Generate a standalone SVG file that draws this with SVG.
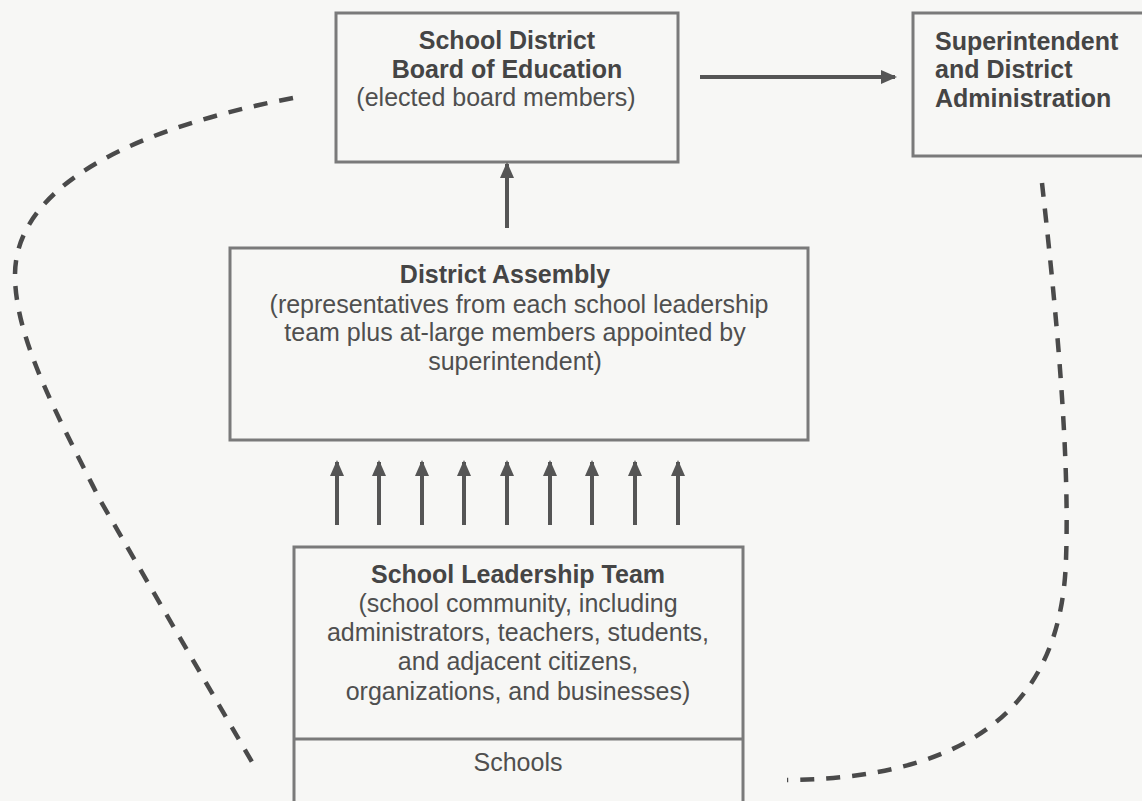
<svg xmlns="http://www.w3.org/2000/svg" width="1142" height="801" viewBox="0 0 1142 801">
<style>
.box{fill:none;stroke:#7a7a7a;stroke-width:3}
.t{font-family:"Liberation Sans",Arial,sans-serif;font-size:25px;fill:#4f4f4f;text-anchor:middle}
.b{font-weight:bold;fill:#454545}
.l{text-anchor:start}
.arr{stroke:#555;stroke-width:4;fill:none}
.dash{stroke:#4a4a4a;stroke-width:4.5;fill:none;stroke-dasharray:14 12}
</style>
<defs>
<marker id="ah" markerUnits="userSpaceOnUse" markerWidth="16" markerHeight="16" viewBox="0 0 16 16" refX="14" refY="8" orient="auto">
<path d="M0,1 L16,8 L0,15 Z" fill="#555"/>
</marker>
</defs>
<rect width="1142" height="801" fill="#f7f7f5"/>
<g id="board">
<rect class="box" x="336" y="13" width="342" height="149"/>
<text class="t b" x="507" y="49">School District</text>
<text class="t b" x="507" y="78">Board of Education</text>
<text class="t" x="496" y="106">(elected board members)</text>
</g>
<g id="superintendent">
<rect class="box" x="913" y="13" width="240" height="143"/>
<text class="t b l" x="935" y="50">Superintendent</text>
<text class="t b l" x="935" y="78">and District</text>
<text class="t b l" x="935" y="107">Administration</text>
</g>
<g id="assembly">
<rect class="box" x="230" y="248" width="578" height="192"/>
<text class="t b" x="505" y="283">District Assembly</text>
<text class="t" x="519" y="313">(representatives from each school leadership</text>
<text class="t" x="515" y="341">team plus at-large members appointed by</text>
<text class="t" x="515" y="370">superintendent)</text>
</g>
<g id="slt">
<rect class="box" x="294" y="547" width="449" height="270"/>
<line class="box" x1="294" y1="739" x2="743" y2="739"/>
<text class="t b" x="518" y="583">School Leadership Team</text>
<text class="t" x="518" y="612">(school community, including</text>
<text class="t" x="518" y="641">administrators, teachers, students,</text>
<text class="t" x="518" y="670">and adjacent citizens,</text>
<text class="t" x="518" y="700">organizations, and businesses)</text>
<text class="t" x="518" y="771">Schools</text>
</g>
<g id="connectors">
<line class="arr" x1="700" y1="77" x2="895" y2="77" marker-end="url(#ah)"/>
<line class="arr" x1="507" y1="228" x2="507" y2="164" marker-end="url(#ah)"/>
<g stroke-width="3.5">
<line class="arr" x1="337" y1="525" x2="337" y2="462" marker-end="url(#ah)"/>
<line class="arr" x1="379" y1="525" x2="379" y2="462" marker-end="url(#ah)"/>
<line class="arr" x1="422" y1="525" x2="422" y2="462" marker-end="url(#ah)"/>
<line class="arr" x1="464" y1="525" x2="464" y2="462" marker-end="url(#ah)"/>
<line class="arr" x1="507" y1="525" x2="507" y2="462" marker-end="url(#ah)"/>
<line class="arr" x1="550" y1="525" x2="550" y2="462" marker-end="url(#ah)"/>
<line class="arr" x1="592" y1="525" x2="592" y2="462" marker-end="url(#ah)"/>
<line class="arr" x1="635" y1="525" x2="635" y2="462" marker-end="url(#ah)"/>
<line class="arr" x1="678" y1="525" x2="678" y2="462" marker-end="url(#ah)"/>
</g>
<path class="dash" d="M293,98 C150,125 15,180 15,275 C15,340 60,420 100,500 L252,762"/>
<path class="dash" d="M1042,183 C1055,300 1070,450 1066,560 C1062,680 1000,778 787,780"/>
</g>
</svg>
